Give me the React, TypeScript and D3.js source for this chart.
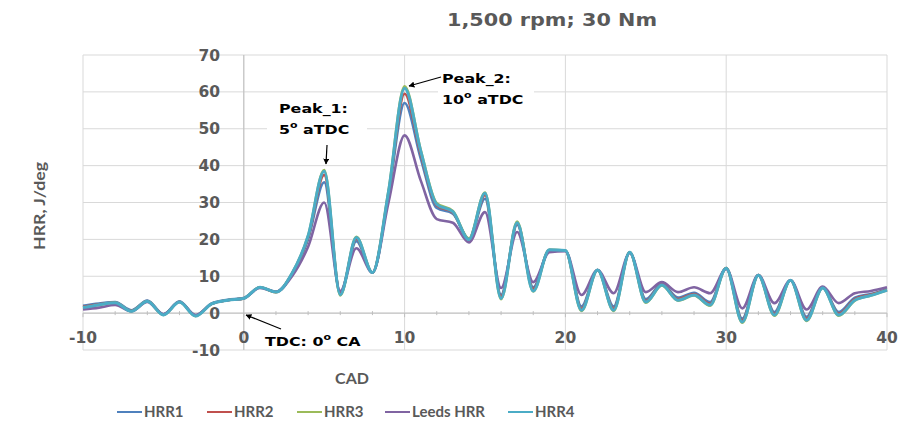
import React from 'react';
import * as d3 from 'd3';

// Crank angle (degrees) for every sample
const CAD = [
  -10, -9, -8, -7, -6, -5, -4, -3, -2, -1, 0, 1, 2, 3, 4, 5, 6, 7, 8, 9, 10,
  11, 12, 13, 14, 15, 16, 17, 18, 19, 20, 21, 22, 23, 24, 25, 26, 27, 28, 29, 30,
  31, 32, 33, 34, 35, 36, 37, 38, 39, 40,
];

const HRR1 = [
  2.0, 2.6, 3.0, 0.8, 3.4, -0.3, 3.2, -0.6, 2.6, 3.6, 4.1, 7.0, 5.8, 10.5, 20.0, 35.5, 5.5, 19.5, 11.0, 32.0, 57.0,
  42.0, 28.5, 27.0, 20.0, 31.0, 5.0, 24.0, 7.0, 17.0, 16.9, 1.8, 11.7, 1.8, 16.4, 3.8, 8.0, 4.2, 5.5, 3.0, 12.2,
  -1.5, 10.3, 0.3, 8.9, -1.0, 7.0, 0.3, 4.2, 5.2, 6.5,
];

const HRR2 = [
  1.7, 2.4, 2.9, 0.6, 3.3, -0.4, 3.1, -0.7, 2.5, 3.5, 4.0, 7.0, 5.7, 10.7, 20.6, 37.5, 5.2, 20.2, 11.0, 32.6, 59.5,
  43.2, 29.2, 27.3, 20.1, 32.0, 4.5, 24.3, 6.5, 17.1, 16.9, 1.2, 11.7, 1.2, 16.5, 3.3, 7.8, 3.8, 5.2, 2.5, 12.2,
  -2.0, 10.3, -0.2, 8.9, -1.5, 6.9, -0.2, 3.8, 5.0, 6.3,
];

const HRR3 = [
  1.4, 2.2, 2.8, 0.5, 3.2, -0.5, 3.0, -0.8, 2.5, 3.5, 4.0, 7.0, 5.7, 10.8, 21.0, 38.8, 4.8, 20.7, 11.0, 33.2, 61.5,
  44.3, 29.8, 27.7, 20.2, 32.7, 3.8, 24.8, 5.9, 17.2, 17.0, 0.6, 11.7, 0.6, 16.5, 2.8, 7.5, 3.4, 4.8, 2.0, 12.2,
  -2.6, 10.3, -0.7, 8.9, -2.1, 6.8, -0.7, 3.4, 4.8, 6.2,
];

const LEEDS = [
  1.0, 1.5, 2.2, 0.5, 3.0, -0.3, 3.0, -0.5, 2.5, 3.5, 4.0, 6.8, 5.8, 10.0, 18.0, 30.0, 6.0, 17.6, 11.0, 30.0, 48.2,
  36.0, 25.5, 24.5, 19.2, 27.4, 6.8, 22.0, 8.4, 16.5, 16.8, 4.9, 11.7, 5.4, 16.3, 5.7, 8.4, 5.7, 7.0, 5.4, 12.0,
  1.3, 10.3, 2.7, 8.9, 1.0, 7.2, 2.7, 5.4, 6.0, 7.0,
];

const HRR4 = [
  1.5, 2.3, 2.8, 0.5, 3.2, -0.5, 3.0, -0.8, 2.5, 3.5, 4.0, 7.0, 5.7, 10.8, 21.0, 38.5, 5.0, 20.5, 11.0, 33.0, 61.0,
  44.0, 29.5, 27.5, 20.0, 32.5, 4.0, 24.5, 6.0, 17.2, 17.0, 0.8, 11.7, 0.8, 16.5, 3.0, 7.6, 3.5, 4.9, 2.2, 12.2,
  -2.4, 10.3, -0.5, 8.9, -1.9, 6.8, -0.5, 3.5, 4.8, 6.2,
];

const SERIES_NAMES = ['HRR1', 'HRR2', 'HRR3', 'Leeds HRR', 'HRR4'];
const SERIES_VALUES = [HRR1, HRR2, HRR3, LEEDS, HRR4];
const SERIES_COLORS = ['#4F81BD', '#C0504D', '#9BBB59', '#8064A2', '#4BACC6'];

const X_TICKS = [-10, 0, 10, 20, 30, 40];
const X_MINOR = [-8, -6, -4, -2, 2, 4, 6, 8, 12, 14, 16, 18, 22, 24, 26, 28, 32, 34, 36, 38];
const Y_TICKS = [-10, 0, 10, 20, 30, 40, 50, 60, 70];

const TITLE = '1,500 rpm; 30 Nm';
const X_TITLE = 'CAD';
const Y_TITLE = 'HRR, J/deg';

const W = 899;
const H = 425;

const LABEL_FONT = 'Lato, "Open Sans", sans-serif';
const WIDE_FONT = '"DejaVu Sans", Verdana, sans-serif';
const TEXT_GREY = '#595959';

export default function App() {
  const x = d3.scaleLinear().domain([-10, 40]).range([83, 887]);
  const y = d3.scaleLinear().domain([-10, 70]).range([350, 55]);

  const line = d3
    .line<number>()
    .x((_, i) => x(CAD[i]))
    .y((v) => y(v))
    .curve(d3.curveMonotoneX);

  const legendX = [117, 207, 297, 385, 508];

  const deg = (
    <tspan fontSize={9} dy={-6}>o</tspan>
  );

  // annotation text, slightly widened
  const note = (tx: number, ty: number, content: React.ReactNode) => (
    <g transform={`translate(${tx},${ty}) scale(1.22,1)`}>
      <text x={0} y={0} fontFamily={WIDE_FONT} fontWeight={700} fontSize={13} fill="#000">
        {content}
      </text>
    </g>
  );

  return (
    <svg
      width={W}
      height={H}
      style={{ position: 'absolute', left: 0, top: 0, display: 'block', background: '#fff' }}
    >
      <defs>
        <marker id="arrowHead" viewBox="0 0 10 10" refX={9} refY={5} markerWidth={5} markerHeight={5} orient="auto">
          <path d="M0,0 L10,5 L0,10 z" fill="#000" />
        </marker>
      </defs>

      <text
        x={447}
        y={26}
        textLength={210}
        lengthAdjust="spacingAndGlyphs"
        fontFamily={WIDE_FONT}
        fontWeight={700}
        fontSize={17}
        fill={TEXT_GREY}
      >
        {TITLE}
      </text>

      {/* gridlines */}
      {Y_TICKS.map((t) => (
        <line key={'gy' + t} x1={x(-10)} x2={x(40)} y1={y(t)} y2={y(t)} stroke="#d9d9d9" strokeWidth={1} />
      ))}
      {X_TICKS.map((t) => (
        <line key={'gx' + t} x1={x(t)} x2={x(t)} y1={y(-10)} y2={y(70)} stroke="#d9d9d9" strokeWidth={1} />
      ))}

      {/* axes crossing at zero */}
      <line x1={x(-10)} x2={x(40)} y1={y(0)} y2={y(0)} stroke="#bfbfbf" strokeWidth={1} />
      <line x1={x(0)} x2={x(0)} y1={y(-10)} y2={y(70)} stroke="#bfbfbf" strokeWidth={1} />
      {X_MINOR.map((t) => (
        <line key={'mx' + t} x1={x(t)} x2={x(t)} y1={y(0) - 2} y2={y(0) + 2} stroke="#bfbfbf" strokeWidth={1} />
      ))}
      {X_TICKS.map((t) => (
        <line key={'tx' + t} x1={x(t)} x2={x(t)} y1={y(0)} y2={y(0) + 4} stroke="#bfbfbf" strokeWidth={1} />
      ))}

      {/* annotation boxes */}
      <rect x={267} y={94} width={100} height={46} fill="#fff" />
      <rect x={438} y={66} width={96} height={44} fill="#fff" />

      {/* series */}
      {SERIES_VALUES.map((vals, i) => (
        <path
          key={SERIES_NAMES[i]}
          d={line(vals) || ''}
          fill="none"
          stroke={SERIES_COLORS[i]}
          strokeWidth={i === 4 ? 3 : 2.6}
          strokeLinejoin="round"
        />
      ))}

      {/* tick labels */}
      {Y_TICKS.map((t) => (
        <text
          key={'ly' + t}
          x={220}
          y={y(t)}
          dy="0.36em"
          textAnchor="end"
          fontFamily={WIDE_FONT}
          fontWeight={700}
          fontSize={15.5}
          fill={TEXT_GREY}
        >
          {t}
        </text>
      ))}
      {X_TICKS.map((t) => (
        <text
          key={'lx' + t}
          x={x(t)}
          y={337}
          dy="0.36em"
          textAnchor="middle"
          fontFamily={WIDE_FONT}
          fontWeight={700}
          fontSize={15.5}
          fill={TEXT_GREY}
        >
          {t}
        </text>
      ))}

      {/* axis titles */}
      <text
        transform={`translate(45,206) rotate(-90)`}
        textAnchor="middle"
        fontFamily={LABEL_FONT}
        fontWeight={700}
        fontSize={16}
        textLength={88}
        lengthAdjust="spacingAndGlyphs"
        fill={TEXT_GREY}
      >
        {Y_TITLE}
      </text>
      <text x={352} y={378} dy="0.35em" textAnchor="middle" fontFamily={LABEL_FONT} fontWeight={700} fontSize={16} fill={TEXT_GREY}>
        {X_TITLE}
      </text>

      {/* annotations */}
      {note(279, 113, 'Peak_1:')}
      {note(279, 134, <>5{deg}<tspan dy={6}> aTDC</tspan></>)}
      {note(442, 83, 'Peak_2:')}
      {note(442, 104, <>10{deg}<tspan dy={6}> aTDC</tspan></>)}
      {note(265, 346, <>TDC: 0{deg}<tspan dy={6}> CA</tspan></>)}
      <line x1={327} y1={145} x2={326} y2={164} stroke="#000" strokeWidth={1.2} markerEnd="url(#arrowHead)" />
      <line x1={441} y1={77} x2={409} y2={86} stroke="#000" strokeWidth={1.2} markerEnd="url(#arrowHead)" />
      <line x1={281} y1={329} x2={246} y2={315} stroke="#000" strokeWidth={1.2} markerEnd="url(#arrowHead)" />

      {/* legend */}
      {SERIES_NAMES.map((name, i) => (
        <g key={'lg' + name} transform={`translate(${legendX[i]},412)`}>
          <line x1={0} x2={25} y1={0} y2={0} stroke={SERIES_COLORS[i]} strokeWidth={2} />
          <text x={27} y={0} dy="0.35em" fontFamily={LABEL_FONT} fontWeight={700} fontSize={15} fill={TEXT_GREY}>
            {name}
          </text>
        </g>
      ))}
    </svg>
  );
}
